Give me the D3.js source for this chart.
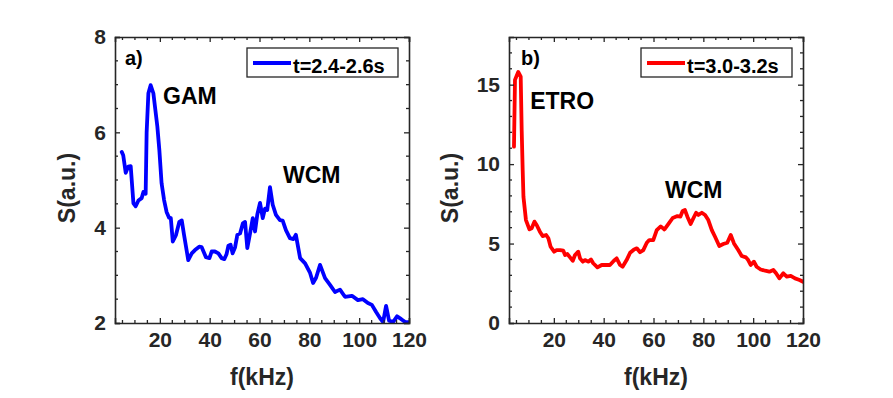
<!DOCTYPE html>
<html>
<head>
<meta charset="utf-8">
<script src="https://cdn.jsdelivr.net/npm/d3@7"></script>
<style>
  body { margin: 0; background: #fff; }
  svg { display: block; font-family: "Liberation Sans", Arial, sans-serif; }
</style>
</head>
<body>
<div id="chartContainer"></div>
<script>
// panel a) t=2.4-2.6s
const freqA = [4.7, 5.3, 6.3, 7.3, 8.3, 9.4, 10.3, 11.4, 12.7, 13.4, 14.3, 14.7, 15.4, 16.3, 17.4, 19.0, 19.8, 20.7, 21.7, 22.7, 23.7, 24.4, 25.2, 26.5, 27.8, 28.8, 29.7, 31.4, 32.8, 34.1, 35.8, 36.8, 38.5, 39.9, 40.8, 42.1, 43.5, 44.8, 45.9, 46.8, 47.5, 48.4, 49.2, 50.2, 51.1, 52.2, 53.3, 54.2, 55.1, 56.2, 57.3, 58.2, 59.1, 60.2, 61.3, 62.2, 63.1, 64.2, 65.3, 66.6, 68.2, 69.3, 70.6, 72.2, 73.6, 74.6, 76.3, 78.3, 80.3, 81.5, 82.7, 84.3, 86.3, 88.3, 90.3, 92.3, 94.3, 97.1, 99.5, 101.5, 103.5, 105.1, 106.8, 108.4, 109.6, 110.8, 112.0, 113.6, 115.2, 116.9, 118.5, 120.0];
const specA = [5.59, 5.52, 5.15, 5.28, 5.29, 4.51, 4.45, 4.57, 4.62, 4.75, 4.71, 6.0, 6.82, 6.99, 6.82, 6.12, 5.63, 4.93, 4.58, 4.33, 4.21, 4.20, 3.71, 3.85, 4.12, 4.15, 3.85, 3.32, 3.46, 3.53, 3.60, 3.59, 3.38, 3.36, 3.50, 3.50, 3.46, 3.36, 3.34, 3.45, 3.62, 3.64, 3.46, 3.59, 3.85, 3.88, 4.09, 4.12, 3.57, 3.88, 4.20, 3.92, 4.27, 4.52, 4.20, 4.40, 4.37, 4.85, 4.48, 4.27, 4.16, 4.15, 3.95, 3.78, 3.76, 3.85, 3.36, 3.25, 3.05, 2.84, 2.95, 3.22, 2.94, 2.80, 2.65, 2.70, 2.55, 2.57, 2.48, 2.50, 2.42, 2.38, 2.23, 2.10, 2.02, 2.36, 2.05, 2.02, 2.14, 2.08, 2.02, 2.02];

// panel b) t=3.0-3.2s
const freqB = [4.0, 4.4, 5.7, 6.7, 7.1, 7.5, 7.8, 8.8, 10.2, 11.1, 12.2, 13.1, 14.4, 15.5, 16.9, 17.8, 18.7, 20.1, 21.1, 22.5, 23.8, 24.5, 25.4, 26.5, 27.6, 28.5, 29.8, 30.5, 31.6, 32.5, 33.8, 34.9, 35.8, 37.5, 39.2, 40.9, 42.5, 44.1, 45.2, 46.6, 47.6, 49.2, 50.6, 52.2, 53.3, 54.6, 55.9, 57.3, 58.3, 59.9, 61.3, 62.9, 64.4, 66.3, 67.7, 69.6, 70.8, 71.7, 72.6, 73.6, 74.9, 76.0, 77.1, 78.0, 79.4, 80.7, 82.0, 83.4, 84.7, 86.4, 88.0, 89.6, 91.0, 92.3, 94.0, 95.4, 97.1, 98.0, 99.0, 100.3, 101.4, 103.0, 104.8, 106.5, 108.1, 109.2, 110.5, 112.1, 113.5, 115.1, 116.8, 118.6, 120.0];
const specB = [11.1, 15.3, 15.8, 15.5, 12.1, 9.6, 7.95, 6.48, 5.89, 5.96, 6.38, 6.17, 5.75, 5.47, 5.54, 5.33, 4.80, 4.49, 4.59, 4.59, 4.55, 4.28, 4.34, 4.13, 3.92, 4.28, 4.49, 4.07, 3.86, 3.96, 3.86, 4.00, 3.76, 3.50, 3.65, 3.65, 3.65, 3.92, 4.07, 3.65, 3.54, 3.96, 4.42, 4.63, 4.70, 4.45, 4.59, 5.05, 5.22, 5.22, 5.85, 6.08, 5.89, 6.30, 6.61, 6.73, 6.70, 7.05, 7.11, 6.69, 6.23, 6.59, 6.94, 6.80, 6.94, 6.80, 6.48, 5.85, 5.43, 4.85, 4.97, 5.05, 5.54, 5.01, 4.59, 4.22, 4.13, 3.96, 3.65, 3.86, 3.54, 3.37, 3.29, 3.23, 3.34, 3.13, 2.81, 3.13, 2.92, 2.96, 2.81, 2.71, 2.60];

const xDomain = [2, 120];
const xTicks = [20, 40, 60, 80, 100, 120];
const yDomainA = [2, 8];
const yTicksA = [2, 4, 6, 8];
const yDomainB = [0, 18];
const yTicksB = [0, 5, 10, 15];

const axisColor = "#262626";

var svg = d3.select("#chartContainer")
    .append("svg")
    .attr("width", 893)
    .attr("height", 398);

function drawPanel(opts) {
    let width = 294, height = 286;
    let g = svg.append("g")
        .attr("transform", "translate(" + opts.left + "," + opts.top + ")");

    let x = d3.scaleLinear().domain(xDomain).range([0, width]);
    let y = d3.scaleLinear().domain(opts.yDomain).range([height, 0]);

    let xMinor = d3.range(5, 121, 5).filter(d => !xTicks.includes(d));
    let yMinor = d3.range(opts.yDomain[0], opts.yDomain[1] + 0.001, opts.yStep)
        .filter(d => !opts.yTicks.includes(d) && d > opts.yDomain[0] && d < opts.yDomain[1]);

    // clip so the line stays in the box
    g.append("clipPath").attr("id", "clip" + opts.id)
        .append("rect").attr("width", width).attr("height", height);

    //data line
    let line = d3.line()
        .x((d, i) => x(opts.freq[i]))
        .y(d => y(d));
    g.append("path")
        .datum(opts.spec)
        .attr("clip-path", "url(#clip" + opts.id + ")")
        .attr("fill", "none")
        .attr("stroke", opts.color)
        .attr("stroke-width", 3.8)
        .attr("stroke-linejoin", "round")
        .attr("stroke-linecap", "round")
        .attr("d", line);

    //axes, ticks pointing inwards on all four sides
    let fmt = d3.format("d");
    let axes = [
        { axis: d3.axisBottom(x).tickValues(xTicks).tickSize(-5), t: "translate(0," + height + ")", labels: true },
        { axis: d3.axisTop(x).tickValues(xTicks).tickSize(-5), t: null, labels: false },
        { axis: d3.axisLeft(y).tickValues(opts.yTicks).tickSize(-5), t: null, labels: true },
        { axis: d3.axisRight(y).tickValues(opts.yTicks).tickSize(-5), t: "translate(" + width + ",0)", labels: false }
    ];
    axes.forEach(a => {
        a.axis.tickFormat(a.labels ? fmt : "");
        a.axis.tickPadding(9);
        let ag = g.append("g").attr("transform", a.t);
        ag.call(a.axis);
        ag.select(".domain").attr("stroke", axisColor).attr("stroke-width", 1.6);
        ag.selectAll(".tick line").attr("stroke", axisColor).attr("stroke-width", 1.3);
        ag.selectAll(".tick text")
            .attr("fill", axisColor)
            .style("font-size", "21px")
            .style("font-weight", "bold");
    });
    //minor ticks
    let minor = g.append("g").attr("stroke", axisColor).attr("stroke-width", 1.3);
    xMinor.forEach(d => {
        minor.append("line").attr("x1", x(d)).attr("x2", x(d)).attr("y1", height).attr("y2", height - 3);
        minor.append("line").attr("x1", x(d)).attr("x2", x(d)).attr("y1", 0).attr("y2", 3);
    });
    yMinor.forEach(d => {
        minor.append("line").attr("x1", 0).attr("x2", 3).attr("y1", y(d)).attr("y2", y(d));
        minor.append("line").attr("x1", width).attr("x2", width - 3).attr("y1", y(d)).attr("y2", y(d));
    });

    //axis labels
    g.append("text")
        .attr("x", width / 2)
        .attr("y", height + 62)
        .attr("text-anchor", "middle")
        .attr("fill", axisColor)
        .style("font-size", "23px")
        .style("font-weight", "bold")
        .text("f(kHz)");
    g.append("text")
        .attr("transform", "translate(" + opts.yLabelX + "," + (height / 2 + 8) + ") rotate(-90)")
        .attr("text-anchor", "middle")
        .attr("fill", axisColor)
        .style("font-size", "23px")
        .style("font-weight", "bold")
        .text("S(a.u.)");

    //panel letter
    g.append("text")
        .attr("x", opts.letterX).attr("y", 28)
        .style("font-size", "20px").style("font-weight", "bold")
        .text(opts.letter);

    //annotations
    opts.notes.forEach(n => {
        g.append("text")
            .attr("x", x(n.f)).attr("y", y(n.s))
            .style("font-size", "23px").style("font-weight", "bold")
            .text(n.text);
    });

    //legend
    let lg = g.append("g").attr("transform", "translate(" + (width - 162) + ",11)");
    lg.append("rect")
        .attr("width", 151).attr("height", 29)
        .attr("fill", "#fff")
        .attr("stroke", axisColor)
        .attr("stroke-width", 1.3);
    lg.append("line")
        .attr("x1", 6).attr("x2", 44).attr("y1", 15).attr("y2", 15)
        .attr("stroke", opts.color).attr("stroke-width", 3.8);
    lg.append("text")
        .attr("x", 46).attr("y", 25)
        .style("font-size", "20px").style("font-weight", "bold")
        .text(opts.legend);
}

drawPanel({
    id: "a", left: 115, top: 37, color: "#0000ff",
    freq: freqA, spec: specA,
    yDomain: yDomainA, yTicks: yTicksA, yStep: 0.5,
    yLabelX: -40, letter: "a)", letterX: 10,
    legend: "t=2.4-2.6s",
    notes: [{ f: 21.3, s: 6.59, text: "GAM" }, { f: 69.4, s: 4.94, text: "WCM" }]
});
drawPanel({
    id: "b", left: 509, top: 37, color: "#ff0000",
    freq: freqB, spec: specB,
    yDomain: yDomainB, yTicks: yTicksB, yStep: 1,
    yLabelX: -51, letter: "b)", letterX: 12,
    legend: "t=3.0-3.2s",
    notes: [{ f: 10.5, s: 13.47, text: "ETRO" }, { f: 64.6, s: 7.87, text: "WCM" }]
});
</script>
</body>
</html>
